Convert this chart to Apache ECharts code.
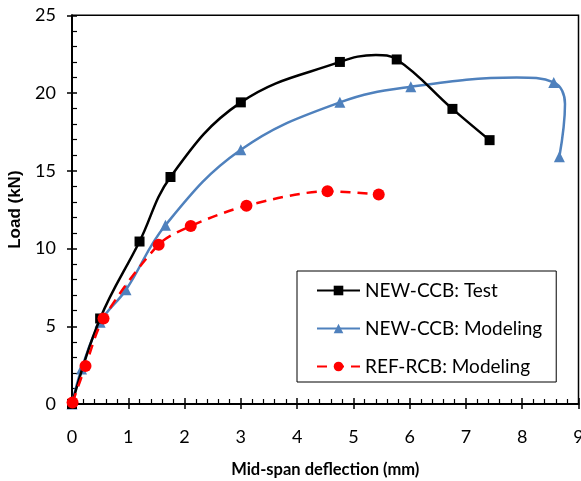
<!DOCTYPE html>
<html><head><meta charset="utf-8">
<script src="https://cdn.jsdelivr.net/npm/echarts@6/dist/echarts.min.js"></script>
<style>html,body{margin:0;padding:0;background:#fff;overflow:hidden;width:581px;height:481px}#c{position:absolute;left:0;top:0;width:581px;height:481px}</style>
</head><body><div id="c"></div>
<script>
const seriesNames = ['NEW-CCB: Test', 'NEW-CCB: Modeling', 'REF-RCB: Modeling'];
const testX = [0, 0.5, 1.2, 1.75, 3.0, 4.76, 5.4, 5.77, 6.76, 7.42];
const testY = [0, 5.5, 10.45, 14.6, 19.4, 22.0, 22.45, 22.16, 18.98, 16.97];
const testMarked = [true, true, true, true, true, true, false, true, true, true];
const modelX = [0, 0.17, 0.5, 0.96, 1.66, 3.0, 4.76, 6.02, 7.9, 8.56, 8.76, 8.66];
const modelY = [0, 2.25, 5.25, 7.35, 11.5, 16.35, 19.4, 20.4, 21.0, 20.68, 19.3, 15.9];
const modelMarked = [true, true, true, true, true, true, true, true, false, true, false, true];
const refX = [0.01, 0.24, 0.56, 1.54, 2.11, 3.1, 4.54, 5.45];
const refY = [0.1, 2.45, 5.5, 10.25, 11.45, 12.75, 13.68, 13.48];
const xTicks = [0, 1, 2, 3, 4, 5, 6, 7, 8, 9];
const yTicks = [0, 5, 10, 15, 20, 25];

const FONT = 'Lato';
function marked(xs, ys, flags) {
  return xs.map((x, i) => flags[i] ? [x, ys[i]] : {value: [x, ys[i]], symbol: 'none'});
}

const chart = echarts.init(document.getElementById('c'), null, {renderer: 'canvas', width: 581, height: 481});
chart.setOption({
  backgroundColor: '#fff',
  animation: false,
  grid: {left: 72, right: 2.5, top: 15.3, bottom: 77, containLabel: false, outerBoundsMode: 'none',
         show: true, borderColor: '#000', borderWidth: 1.5, backgroundColor: 'transparent'},
  legend: {
    orient: 'vertical', left: 297, top: 271, width: 266,
    padding: [10, 14, 6, 19],
    backgroundColor: '#fff', borderColor: '#000', borderWidth: 1,
    itemWidth: 43, itemHeight: 12, itemGap: 19,
    textStyle: {fontFamily: FONT, fontSize: 19, color: '#000'},
    data: seriesNames
  },
  xAxis: [
    {
      type: 'value', splitLine: {show: false},
      min: 0, max: 9, interval: 1,
      name: 'Mid-span deflection (mm)', nameLocation: 'middle', nameGap: 57,
      nameTextStyle: {fontFamily: FONT, fontWeight: 'bold', fontSize: 16.5, color: '#000'},
      axisLine: {show: true, lineStyle: {color: '#000', width: 2}},
      axisTick: {show: true, inside: true, length: 6, lineStyle: {color: '#000', width: 1.5}},
      minorTick: {show: true, splitNumber: 5, length: 5, lineStyle: {color: '#000', width: 1.2}},
      axisLabel: {fontFamily: FONT, fontSize: 18, color: '#000', margin: 24, formatter: v => xTicks.includes(v) ? String(v) : ''}
    },
    {
      type: 'value', splitLine: {show: false},
      min: 0, max: 9, interval: 1, position: 'bottom', gridIndex: 0,
      axisLine: {show: false},
      axisTick: {show: true, inside: false, length: 5, lineStyle: {color: '#000', width: 1.5}},
      axisLabel: {show: false}
    }
  ],
  yAxis: [
    {
      type: 'value', splitLine: {show: false},
      min: 0, max: 25, interval: 5,
      name: 'Load (kN)', nameLocation: 'middle', nameGap: 40,
      nameTextStyle: {fontFamily: 'Liberation Sans', fontWeight: 'bold', fontSize: 17, color: '#000'},
      axisLine: {show: true, lineStyle: {color: '#000', width: 2}},
      axisTick: {show: true, inside: true, length: 5, lineStyle: {color: '#000', width: 1.5}},
      minorTick: {show: true, splitNumber: 5, length: 5, lineStyle: {color: '#000', width: 1.2}},
      axisLabel: {fontFamily: FONT, fontSize: 18, color: '#000', margin: 16, formatter: v => yTicks.includes(v) ? String(v) : ''}
    },
    {
      type: 'value', splitLine: {show: false},
      min: 0, max: 25, interval: 5, position: 'left', gridIndex: 0,
      axisLine: {show: false},
      axisTick: {show: true, inside: false, length: 5, lineStyle: {color: '#000', width: 1.5}},
      axisLabel: {show: false}
    }
  ],
  series: [
    {
      name: seriesNames[0], type: 'line', smooth: 0.4, z: 4,
      data: marked(testX, testY, testMarked),
      symbol: 'rect', symbolSize: 10,
      itemStyle: {color: '#000'},
      lineStyle: {color: '#000', width: 2.5}
    },
    {
      name: seriesNames[1], type: 'line', smooth: 0.4, z: 3,
      data: marked(modelX, modelY, modelMarked),
      symbol: 'triangle', symbolSize: 11,
      itemStyle: {color: '#4f81bd'},
      lineStyle: {color: '#4f81bd', width: 2.5}
    },
    {
      name: seriesNames[2], type: 'line', smooth: 0.3, z: 5,
      data: refX.map((x, i) => [x, refY[i]]),
      symbol: 'circle', symbolSize: 12,
      itemStyle: {color: '#ff0000'},
      lineStyle: {color: '#ff0000', width: 2.5, type: [10, 7]}
    }
  ]
});
</script></body></html>
